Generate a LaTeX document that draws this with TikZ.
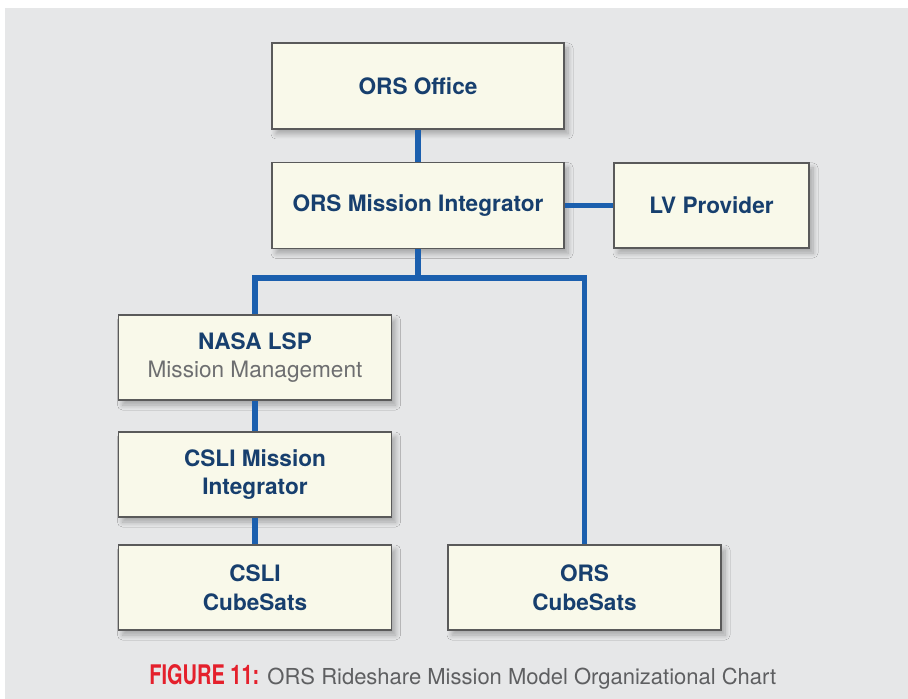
\documentclass[tikz,border=0pt]{standalone}
\usepackage{fontspec}
\setmainfont{TeX Gyre Heros}
\newfontfamily\capfont[FakeStretch=0.74]{TeX Gyre Heros}
\usetikzlibrary{shadows.blur}

\definecolor{bgray}{HTML}{E6E7E8}
\definecolor{boxfill}{HTML}{F9F9EA}
\definecolor{boxline}{HTML}{5A5A5A}
\definecolor{navy}{HTML}{173F6E}
\definecolor{linkblue}{HTML}{1B5FAE}
\definecolor{capred}{HTML}{E4202C}
\definecolor{capgray}{HTML}{5E5F61}
\definecolor{subgray}{HTML}{6D6E70}

\tikzset{
  box/.style={draw=boxline, line width=0.8pt, fill=boxfill, inner sep=0pt,
    align=center, text=navy, font=\fontsize{11.3}{14.3}\selectfont\bfseries,
    blur shadow={shadow xshift=2pt, shadow yshift=-2.5pt, shadow blur radius=2.5pt,
      shadow blur steps=8, shadow opacity=28}},
  link/.style={draw=linkblue, line width=2.7pt}
}

\begin{document}
\begin{tikzpicture}[x=0.5pt,y=-0.5pt]

      \useasboundingbox (0,0) rectangle (908,699);
      \fill[bgray] (5,8) rectangle (908,699);

      \begin{scope}[every node/.style={box}]
        \node[minimum width=146pt, minimum height=43pt] (off) at (418,86)    {ORS Office};
        \node[minimum width=146pt, minimum height=43pt] (mi)  at (418,205.5) {ORS Mission Integrator};
        \node[minimum width=97.5pt, minimum height=42.5pt] (lv) at (711.5,205.5) {LV Provider};
        \node[minimum width=136.5pt, minimum height=42.5pt] (lsp) at (255,357.5)
          {NASA LSP\\{\mdseries\color{subgray}Mission Management}};
        \node[minimum width=136.5pt, minimum height=42.5pt] (cmi) at (255,474.5) {CSLI Mission\\Integrator};
        \node[minimum width=136.5pt, minimum height=42.5pt] (ccs) at (255,587.5) {CSLI\\CubeSats};
        \node[minimum width=136.5pt, minimum height=42.5pt] (ocs) at (584.5,587.5) {ORS\\CubeSats};
      \end{scope}

      \coordinate (split) at (418,278);

      \begin{scope}[every edge/.style={link}]
        \path (off) edge (mi);
        \path (mi)  edge (lv);
        \path (mi)  edge (split);
        \path (lsp) edge (cmi);
        \path (cmi) edge (ccs);
      \end{scope}
      \draw[link] (lsp) |- (split) -| (ocs);

      \node[anchor=base west, inner sep=0pt, font=\fontsize{11}{13}\selectfont] (cap) at (149,684)
        {{\capfont\bfseries\fontsize{13.5}{14}\selectfont\color{capred}FIGURE 11:}
         \color{capgray}ORS Rideshare Mission Model Organizational Chart};

    \end{tikzpicture}
\end{document}
